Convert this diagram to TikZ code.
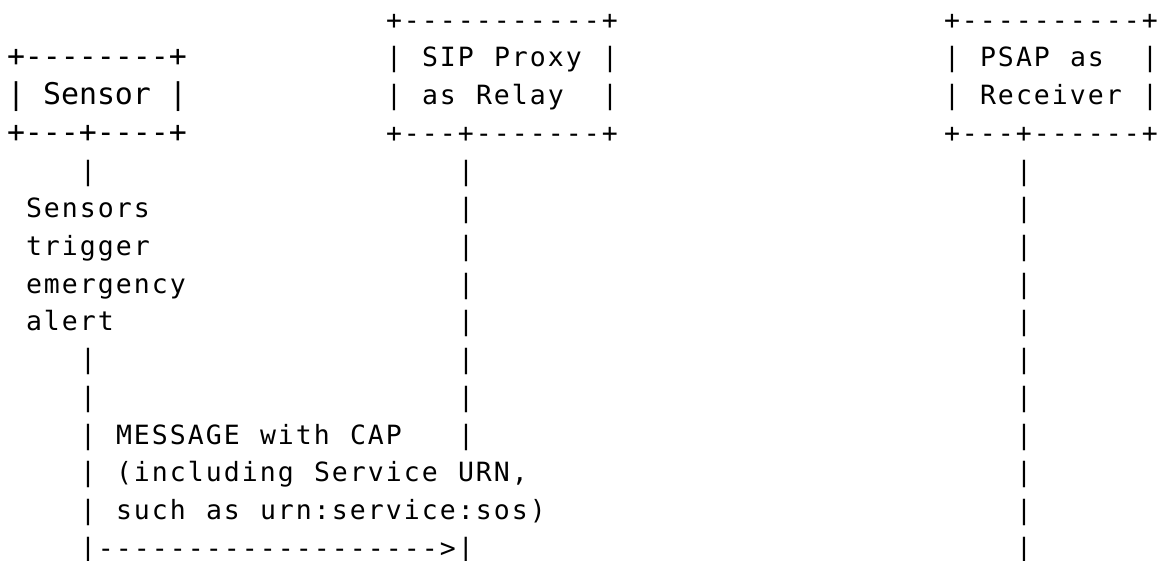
\documentclass[tikz,border=0pt]{standalone}
\usepackage{fontspec}
\newfontfamily\mainmono[LetterSpace=7.7,Ligatures=TeXOff]{DejaVu Sans Mono}
\newfontfamily\boxmono[Ligatures=TeXOff]{DejaVu Sans Mono}
\tikzset{
  basetok/.style={anchor=base west, inner sep=0pt, outer sep=0pt, text=black},
  glyph/.style={basetok, xshift=1pt, font=\mainmono\fontsize{26.5}{30}\selectfont},
  boxglyph/.style={basetok, font=\boxmono\fontsize{29.9}{34}\selectfont},
}
% #1 style, #2 name, #3 column, #4 row, #5 text
\newcommand\tok[5]{\node[#1] (#2) at ({7+18*(#3)},{-(29.3+37.7*(#4))}) {#5};}
\begin{document}
\begin{tikzpicture}[x=1pt,y=1pt]
\useasboundingbox (0,0) rectangle (1164,-561);
% row 0
\tok{glyph}{sipTop}{21}{0}{+-----------+}
\tok{glyph}{psapTop}{52}{0}{+----------+}
% row 1
\tok{boxglyph}{senTop}{0}{1}{+--------+}
\tok{glyph}{sipL1}{21}{1}{|}
\tok{glyph}{sipA}{23}{1}{SIP}
\tok{glyph}{sipB}{27}{1}{Proxy}
\tok{glyph}{sipR1}{33}{1}{|}
\tok{glyph}{psapL1}{52}{1}{|}
\tok{glyph}{psapA}{54}{1}{PSAP}
\tok{glyph}{psapB}{59}{1}{as}
\tok{glyph}{psapR1}{63}{1}{|}
% row 2
\tok{boxglyph}{senL}{0}{2}{|}
\tok{boxglyph}{senA}{2}{2}{Sensor}
\tok{boxglyph}{senR}{9}{2}{|}
\tok{glyph}{sipL2}{21}{2}{|}
\tok{glyph}{sipC}{23}{2}{as}
\tok{glyph}{sipD}{26}{2}{Relay}
\tok{glyph}{sipR2}{33}{2}{|}
\tok{glyph}{psapL2}{52}{2}{|}
\tok{glyph}{psapC}{54}{2}{Receiver}
\tok{glyph}{psapR2}{63}{2}{|}
% row 3
\tok{boxglyph}{senBot}{0}{3}{+---+----+}
\tok{glyph}{sipBot}{21}{3}{+---+-------+}
\tok{glyph}{psapBot}{52}{3}{+---+------+}
% sensor lifeline and note
\foreach \r in {4,9,10}{\tok{glyph}{senLine\r}{4}{\r}{|}}
\tok{glyph}{note1}{1}{5}{Sensors}
\tok{glyph}{note2}{1}{6}{trigger}
\tok{glyph}{note3}{1}{7}{emergency}
\tok{glyph}{note4}{1}{8}{alert}
% relay lifeline
\foreach \r in {4,...,11}{\tok{glyph}{sipLine\r}{25}{\r}{|}}
% PSAP lifeline
\foreach \r in {4,...,14}{\tok{glyph}{psapLine\r}{56}{\r}{|}}
% message
\tok{glyph}{senLine11}{4}{11}{|}
\tok{glyph}{m1a}{6}{11}{MESSAGE}
\tok{glyph}{m1b}{14}{11}{with}
\tok{glyph}{m1c}{19}{11}{CAP}
\tok{glyph}{senLine12}{4}{12}{|}
\tok{glyph}{m2a}{6}{12}{(including}
\tok{glyph}{m2b}{17}{12}{Service}
\tok{glyph}{m2c}{25}{12}{URN,}
\tok{glyph}{senLine13}{4}{13}{|}
\tok{glyph}{m3a}{6}{13}{such}
\tok{glyph}{m3b}{11}{13}{as}
\tok{glyph}{m3c}{14}{13}{urn:service:sos)}
\tok{glyph}{arrow}{4}{14}{|------------------->|}
\end{tikzpicture}
\end{document}
